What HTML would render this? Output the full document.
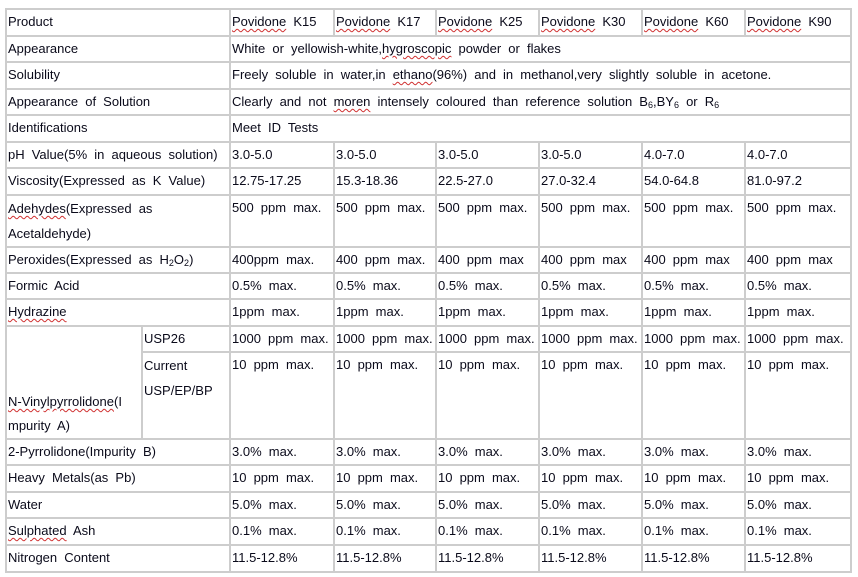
<!DOCTYPE html>
<html><head><meta charset="utf-8"><style>
html,body{margin:0;padding:0;background:#fff;width:858px;height:577px;overflow:hidden}
table{position:absolute;left:5px;top:8px;border-collapse:collapse;table-layout:fixed;font-family:"Liberation Sans",Arial,sans-serif;font-size:13px;color:#0a0a1a;word-spacing:3.5px}
td{border:2px solid #cdcdcd;padding:1px 0 0 1px;vertical-align:top;line-height:22px;white-space:nowrap;overflow:hidden}
td.m{line-height:25px;padding-top:0}
.w{text-decoration:underline wavy #d03030;text-decoration-thickness:1px;text-underline-offset:2px}
sub{font-size:9px;vertical-align:-2px;line-height:0}
.b{vertical-align:bottom;line-height:24px;padding-bottom:0}
</style></head><body>
<table>
<colgroup><col style="width:136px"><col style="width:88px"><col style="width:104px"><col style="width:102px"><col style="width:103px"><col style="width:103px"><col style="width:103px"><col style="width:106px"></colgroup>
<tr style="height:27px"><td colspan="2">Product</td><td><span class="w">Povidone</span> K15</td><td><span class="w">Povidone</span> K17</td><td><span class="w">Povidone</span> K25</td><td><span class="w">Povidone</span> K30</td><td><span class="w">Povidone</span> K60</td><td><span class="w">Povidone</span> K90</td></tr>
<tr style="height:26px"><td colspan="2">Appearance</td><td colspan="6">White or yellowish-white,<span class="w">hygroscopic</span> powder or flakes</td></tr>
<tr style="height:27px"><td colspan="2">Solubility</td><td colspan="6">Freely soluble in water,in <span class="w">ethano</span>(96%) and in methanol,very slightly soluble in acetone.</td></tr>
<tr style="height:26px"><td colspan="2">Appearance of Solution</td><td colspan="6">Clearly and not <span class="w">moren</span> intensely coloured than reference solution B<sub>6</sub>,BY<sub>6</sub> or R<sub>6</sub></td></tr>
<tr style="height:27px"><td colspan="2">Identifications</td><td colspan="6">Meet ID Tests</td></tr>
<tr style="height:26px"><td colspan="2">pH Value(5% in aqueous solution)</td><td>3.0-5.0</td><td>3.0-5.0</td><td>3.0-5.0</td><td>3.0-5.0</td><td>4.0-7.0</td><td>4.0-7.0</td></tr>
<tr style="height:27px"><td colspan="2">Viscosity(Expressed as K Value)</td><td>12.75-17.25</td><td>15.3-18.36</td><td>22.5-27.0</td><td>27.0-32.4</td><td>54.0-64.8</td><td>81.0-97.2</td></tr>
<tr style="height:52px"><td colspan="2" class="m"><span class="w">Adehydes</span>(Expressed as<br>Acetaldehyde)</td><td>500 ppm max.</td><td>500 ppm max.</td><td>500 ppm max.</td><td>500 ppm max.</td><td>500 ppm max.</td><td>500 ppm max.</td></tr>
<tr style="height:26px"><td colspan="2">Peroxides(Expressed as H<sub>2</sub>O<sub>2</sub>)</td><td>400ppm max.</td><td>400 ppm max.</td><td>400 ppm max</td><td>400 ppm max</td><td>400 ppm max</td><td>400 ppm max</td></tr>
<tr style="height:26px"><td colspan="2">Formic Acid</td><td>0.5% max.</td><td>0.5% max.</td><td>0.5% max.</td><td>0.5% max.</td><td>0.5% max.</td><td>0.5% max.</td></tr>
<tr style="height:27px"><td colspan="2"><span class="w">Hydrazine</span></td><td>1ppm max.</td><td>1ppm max.</td><td>1ppm max.</td><td>1ppm max.</td><td>1ppm max.</td><td>1ppm max.</td></tr>
<tr style="height:26px"><td rowspan="2" class="b"><span class="w">N-Vinylpyrrolidone</span>(I<br>mpurity A)</td><td>USP26</td><td>1000 ppm max.</td><td>1000 ppm max.</td><td>1000 ppm max.</td><td>1000 ppm max.</td><td>1000 ppm max.</td><td>1000 ppm max.</td></tr>
<tr style="height:87px"><td class="m">Current<br>USP/EP/BP</td><td>10 ppm max.</td><td>10 ppm max.</td><td>10 ppm max.</td><td>10 ppm max.</td><td>10 ppm max.</td><td>10 ppm max.</td></tr>
<tr style="height:26px"><td colspan="2">2-Pyrrolidone(Impurity B)</td><td>3.0% max.</td><td>3.0% max.</td><td>3.0% max.</td><td>3.0% max.</td><td>3.0% max.</td><td>3.0% max.</td></tr>
<tr style="height:27px"><td colspan="2">Heavy Metals(as Pb)</td><td>10 ppm max.</td><td>10 ppm max.</td><td>10 ppm max.</td><td>10 ppm max.</td><td>10 ppm max.</td><td>10 ppm max.</td></tr>
<tr style="height:26px"><td colspan="2">Water</td><td>5.0% max.</td><td>5.0% max.</td><td>5.0% max.</td><td>5.0% max.</td><td>5.0% max.</td><td>5.0% max.</td></tr>
<tr style="height:27px"><td colspan="2"><span class="w">Sulphated</span> Ash</td><td>0.1% max.</td><td>0.1% max.</td><td>0.1% max.</td><td>0.1% max.</td><td>0.1% max.</td><td>0.1% max.</td></tr>
<tr style="height:27px"><td colspan="2">Nitrogen Content</td><td>11.5-12.8%</td><td>11.5-12.8%</td><td>11.5-12.8%</td><td>11.5-12.8%</td><td>11.5-12.8%</td><td>11.5-12.8%</td></tr>
</table>
</body></html>
